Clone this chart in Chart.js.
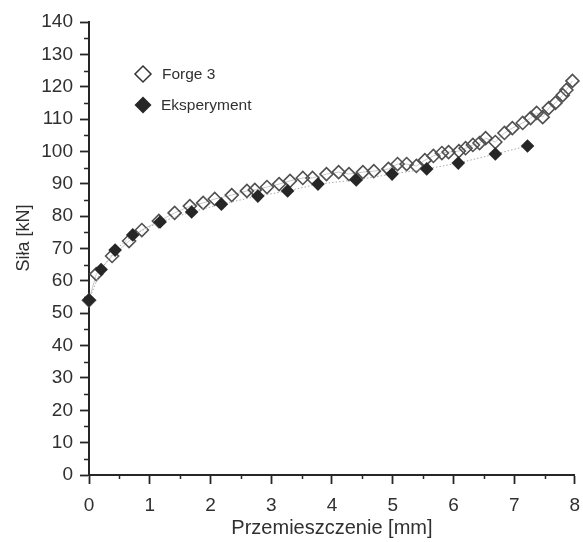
<!DOCTYPE html>
<html>
<head>
<meta charset="utf-8">
<script src="https://cdn.jsdelivr.net/npm/chart.js@4/dist/chart.umd.min.js"></script>
<style>
  html, body { margin: 0; padding: 0; background: #fff; }
  #wrap { width: 583px; height: 542px; position: relative; }
</style>
</head>
<body>
<div id="wrap"><canvas id="c"></canvas></div>
<script>
// Force vs. displacement: FEM simulation (Forge 3) against the measured curve
const forgeX = [0, 0.12, 0.38, 0.66, 0.87, 1.15, 1.41, 1.66, 1.88, 2.07, 2.35, 2.60, 2.73, 2.93, 3.13,
  3.31, 3.52, 3.68, 3.91, 4.11, 4.28, 4.51, 4.69, 4.93, 5.08, 5.23, 5.39, 5.53, 5.67, 5.81,
  5.92, 6.09, 6.20, 6.32, 6.43, 6.53, 6.69, 6.84, 6.97, 7.14, 7.27, 7.37, 7.47, 7.57, 7.68,
  7.80, 7.86, 7.96];
const forgeY = [54, 62.1, 67.7, 72.3, 75.7, 78.5, 81.0, 83.1, 84.1, 85.3, 86.5, 87.8, 88.1, 89.0, 89.9,
  90.9, 91.8, 91.8, 93.0, 93.6, 93.0, 93.6, 93.9, 94.6, 96.1, 96.1, 95.5, 97.3, 98.6, 99.5,
  99.8, 100.1, 101.0, 102.0, 102.6, 104.1, 102.9, 105.7, 107.2, 108.8, 110.3, 111.9, 110.6, 113.4, 115.0,
  117.4, 119.0, 121.8];

const expX = [0, 0.20, 0.43, 0.72, 1.17, 1.69, 2.18, 2.78, 3.27, 3.77, 4.40, 4.99, 5.56, 6.08, 6.69, 7.22];
const expY = [54.1, 63.5, 69.5, 74.2, 78.2, 81.3, 83.7, 86.2, 87.8, 89.9, 91.2, 93.0, 94.6, 96.4, 99.2, 101.7];

const seriesNames = ['Forge 3', 'Eksperyment'];
const xTitle = 'Przemieszczenie [mm]';
const yTitle = 'Siła [kN]';

const INK = '#262626';
const TEXT = '#303030';
const FONT = 'Arial, "Liberation Sans", sans-serif';

const toPoints = (xs, ys) => xs.map((x, i) => ({ x: x, y: ys[i] }));

// Minor ticks on both axes, the rotated y-axis title and the inset legend
const extras = {
  id: 'extras',
  afterDraw(chart) {
    const ctx = chart.ctx;
    const xs = chart.scales.x, ys = chart.scales.y;
    const area = chart.chartArea;
    ctx.save();
    ctx.strokeStyle = INK;
    ctx.lineWidth = 1.5;
    ctx.beginPath();
    for (let v = 5; v < 140; v += 10) {
      const p = Math.round(ys.getPixelForValue(v)) + 0.5;
      ctx.moveTo(area.left - 5, p);
      ctx.lineTo(area.left, p);
    }
    for (let v = 0.5; v < 8; v += 1) {
      const p = Math.round(xs.getPixelForValue(v)) + 0.5;
      ctx.moveTo(p, area.bottom);
      ctx.lineTo(p, area.bottom + 4);
    }
    ctx.stroke();

    // y-axis title
    ctx.fillStyle = TEXT;
    ctx.font = '18px ' + FONT;
    ctx.textAlign = 'center';
    ctx.textBaseline = 'middle';
    ctx.translate(24, 238);
    ctx.rotate(-Math.PI / 2);
    ctx.fillText(yTitle, 0, 0);
    ctx.restore();

    // legend
    ctx.save();
    const diamond = (cx, cy, r) => {
      ctx.beginPath();
      ctx.moveTo(cx, cy - r);
      ctx.lineTo(cx + r, cy);
      ctx.lineTo(cx, cy + r);
      ctx.lineTo(cx - r, cy);
      ctx.closePath();
    };
    diamond(143, 74, 8);
    ctx.fillStyle = '#fff';
    ctx.fill();
    ctx.strokeStyle = '#333';
    ctx.lineWidth = 1.5;
    ctx.stroke();
    diamond(143, 105, 8.5);
    ctx.fillStyle = INK;
    ctx.fill();
    ctx.fillStyle = TEXT;
    ctx.font = '15.5px ' + FONT;
    ctx.textAlign = 'left';
    ctx.textBaseline = 'middle';
    ctx.fillText(seriesNames[0], 162, 75);
    ctx.fillText(seriesNames[1], 161, 106);
    ctx.restore();
  }
};

new Chart(document.getElementById('c'), {
  type: 'scatter',
  data: {
    datasets: [
      {
        label: seriesNames[0],
        data: toPoints(forgeX, forgeY),
        showLine: true,
        borderColor: '#c9c9c9',
        borderWidth: 1,
        pointStyle: 'rectRot',
        pointRadius: 6.5,
        pointBorderWidth: 1.6,
        pointBorderColor: '#505050',
        pointBackgroundColor: 'rgba(255,255,255,0)',
        clip: false,
        order: 0
      },
      {
        label: seriesNames[1],
        data: toPoints(expX, expY),
        showLine: true,
        borderColor: '#a8a8a8',
        borderWidth: 1,
        borderDash: [1.5, 2],
        pointStyle: 'rectRot',
        pointRadius: 6.8,
        pointBorderWidth: 0,
        pointBackgroundColor: INK,
        clip: false,
        order: -1
      }
    ]
  },
  options: {
    responsive: true,
    maintainAspectRatio: false,
    animation: false,
    devicePixelRatio: 1,
    layout: { padding: { top: 22, right: 8, left: 0, bottom: 0 } },
    plugins: { legend: { display: false }, tooltip: { enabled: false } },
    scales: {
      x: {
        type: 'linear',
        min: 0, max: 8,
        afterFit(s) { s.height = 67; s.paddingLeft = 0; s.paddingRight = 0; },
        ticks: { stepSize: 1, color: TEXT, font: { family: FONT, size: 19 }, padding: 10 },
        grid: { drawOnChartArea: false, drawTicks: true, tickLength: 9, tickColor: INK, tickWidth: 1.8 },
        border: { display: true, color: INK, width: 2 },
        title: { display: true, text: xTitle, color: TEXT, font: { family: FONT, size: 20 }, padding: { top: 0, bottom: 2 } }
      },
      y: {
        type: 'linear',
        min: 0, max: 140,
        afterFit(s) { s.width = 89; s.paddingTop = 0; s.paddingBottom = 0; },
        ticks: { stepSize: 10, color: TEXT, font: { family: FONT, size: 19 }, padding: 7 },
        grid: { drawOnChartArea: false, drawTicks: true, tickLength: 9, tickColor: INK, tickWidth: 1.8 },
        border: { display: true, color: INK, width: 2 },
        title: { display: false }
      }
    }
  },
  plugins: [extras]
});
</script>
</body>
</html>
